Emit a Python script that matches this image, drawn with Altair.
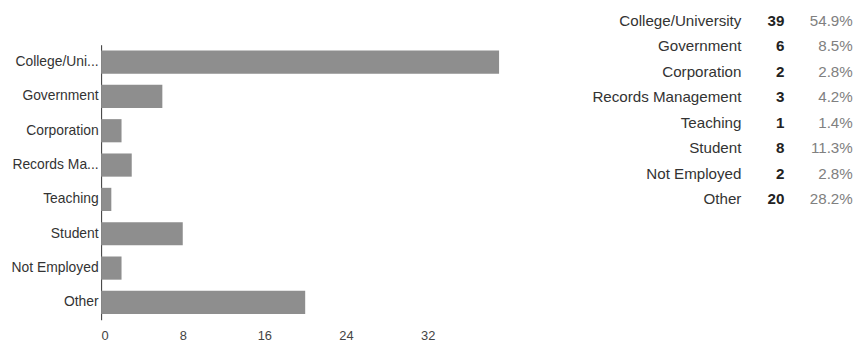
import altair as alt
import pandas as pd

categories = ["College/University", "Government", "Corporation", "Records Management",
              "Teaching", "Student", "Not Employed", "Other"]
axis_labels = ["College/Uni...", "Government", "Corporation", "Records Ma...",
               "Teaching", "Student", "Not Employed", "Other"]
counts = [39, 6, 2, 3, 1, 8, 2, 20]
percents = ["54.9%", "8.5%", "2.8%", "4.2%", "1.4%", "11.3%", "2.8%", "28.2%"]
x_ticks = [0, 8, 16, 24, 32]
columns = ["label", "count", "pct"]

df = pd.DataFrame({"category": categories, "short": axis_labels,
                   "count": counts, "pct": percents})

FONT = "Liberation Sans"

bars = alt.Chart(df).mark_bar(color="#8e8e8e").encode(
    x=alt.X("count:Q",
            scale=alt.Scale(domain=[0, 40], nice=False),
            axis=alt.Axis(values=x_ticks, title=None, grid=False, domain=False,
                          ticks=False, labelPadding=10, labelFontSize=13,
                          labelColor="#444", labelFont=FONT)),
    y=alt.Y("short:N", sort=axis_labels,
            scale=alt.Scale(paddingInner=0.325, paddingOuter=0.167),
            axis=alt.Axis(title=None, ticks=False, domain=True, domainColor="#333",
                          domainWidth=1, labelPadding=3, labelFontSize=14,
                          labelColor="#333", labelFont=FONT, labelLimit=200)),
)

ty = alt.Y("category:N", sort=categories,
           scale=alt.Scale(type="point", domain=categories, range=[-24.2, 155.8], padding=0),
           axis=None)
tx = alt.X("col:N",
           scale=alt.Scale(type="point", domain=columns, range=[646.3, 758.7], padding=0),
           axis=None)

base = alt.Chart(df)
t_label = base.transform_calculate(col="'label'").mark_text(
    align="right", baseline="middle", font=FONT, fontSize=15.3, color="#333"
).encode(x=tx, y=ty, text="category:N")
t_count = base.transform_calculate(col="'count'").mark_text(
    align="right", baseline="middle", font=FONT, fontSize=15.3, fontWeight="bold",
    color="#222", dx=-12.8
).encode(x=tx, y=ty, text="count:Q")
t_pct = base.transform_calculate(col="'pct'").mark_text(
    align="right", baseline="middle", font=FONT, fontSize=15.3, color="#808080"
).encode(x=tx, y=ty, text="pct:N")

chart = alt.layer(bars, t_label, t_count, t_pct).resolve_scale(
    x="independent", y="independent"
).properties(
    width=412, height=277.6,
    background="white",
    autosize=alt.AutoSizeParams(type="none"),
    padding={"left": 94, "top": 35.5, "right": 350, "bottom": 21.9},
).configure_view(stroke=None, strokeWidth=0)

chart.save("out.html", embed_options={"renderer": "svg", "actions": False})
